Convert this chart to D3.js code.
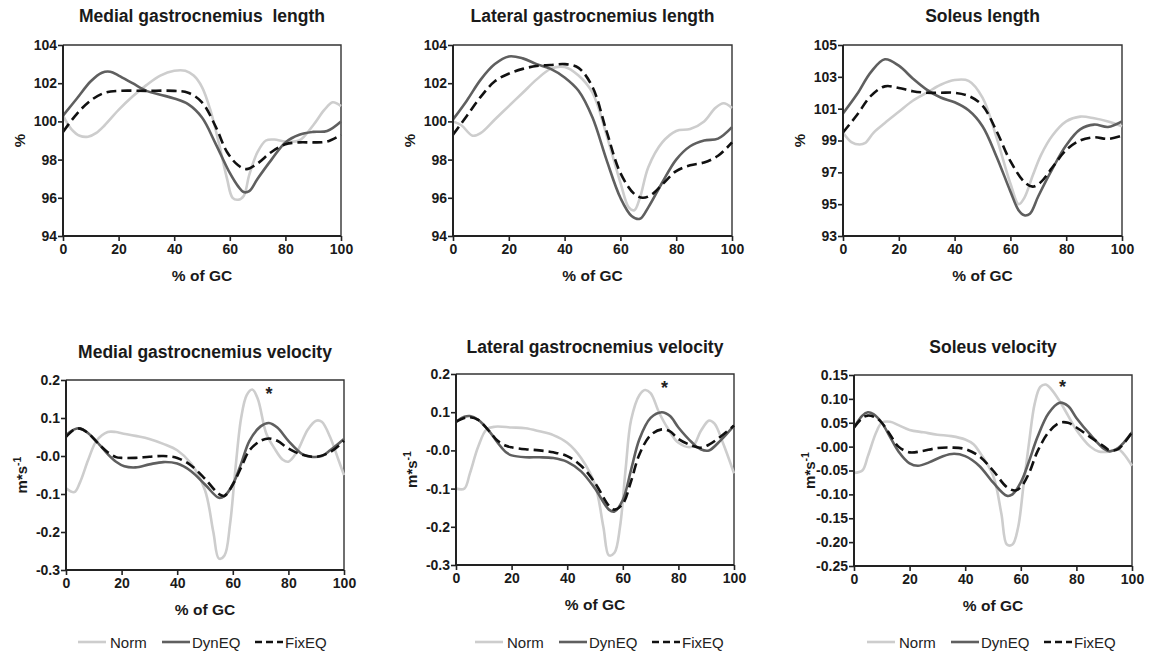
<!DOCTYPE html>
<html>
<head>
<meta charset="utf-8">
<script src="https://cdn.jsdelivr.net/npm/d3@7"></script>
<style>
  html, body { margin: 0; padding: 0; background: #fff; }
  svg { display: block; font-family: "Liberation Sans", Arial, sans-serif; }
</style>
</head>
<body>
<svg id="chart" width="1149" height="652"></svg>
<script>
// ---------- DATA ----------
const seriesNames = ["Norm", "DynEQ", "FixEQ"];
const xTicks = [0, 20, 40, 60, 80, 100];

// Medial gastrocnemius length (%)
const mgLenNorm = [[0,100.3],[3,99.6],[6,99.25],[9,99.2],[12,99.4],[15,99.8],[20,100.6],[25,101.3],[30,101.9],[35,102.4],[40,102.65],[44,102.65],[47,102.4],[50,101.8],[53,100.6],[56,98.9],[59,97.0],[61,96.0],[63,95.9],[65,96.1],[67,97.2],[70,98.4],[73,99.0],[76,99.05],[80,98.95],[85,99.0],[90,99.8],[94,100.6],[97,101.0],[100,100.8]];
const mgLenDyn  = [[0,100.3],[5,101.2],[10,102.1],[14,102.55],[17,102.6],[20,102.4],[25,102.0],[30,101.6],[35,101.4],[40,101.2],[45,100.9],[50,100.2],[55,98.8],[60,97.3],[63,96.6],[65,96.3],[67,96.35],[70,97.0],[75,98.0],[80,98.9],[85,99.3],[90,99.45],[95,99.5],[100,100.0]];
const mgLenFix  = [[0,99.45],[5,100.4],[10,101.1],[15,101.5],[20,101.6],[30,101.6],[40,101.6],[45,101.5],[50,101.0],[55,99.7],[59,98.4],[63,97.7],[66,97.5],[70,97.8],[75,98.4],[80,98.8],[85,98.9],[90,98.9],[95,98.95],[100,99.3]];

// Lateral gastrocnemius length (%)
const lgLenNorm = [[0,100.0],[3,99.8],[7,99.25],[10,99.4],[15,100.1],[20,100.8],[25,101.5],[30,102.2],[35,102.75],[40,102.85],[45,102.4],[50,101.5],[55,99.3],[60,96.8],[63,95.5],[65,95.35],[67,96.0],[70,97.6],[75,98.9],[80,99.5],[85,99.6],[90,100.0],[94,100.7],[97,100.95],[100,100.7]];
const lgLenDyn  = [[0,100.1],[5,101.1],[10,102.2],[15,103.0],[20,103.4],[25,103.3],[30,103.0],[35,102.75],[40,102.3],[45,101.6],[50,100.2],[55,98.0],[60,96.0],[64,95.05],[67,94.9],[70,95.5],[75,96.8],[80,98.0],[85,98.7],[90,99.0],[95,99.1],[100,99.7]];
const lgLenFix  = [[0,99.3],[5,100.3],[10,101.3],[15,102.1],[20,102.5],[25,102.75],[30,102.9],[35,102.95],[40,103.0],[45,102.8],[50,101.8],[55,99.5],[60,97.3],[65,96.2],[68,96.0],[71,96.15],[75,96.7],[80,97.4],[85,97.7],[90,97.85],[95,98.2],[100,98.9]];

// Soleus length (%)
const solLenNorm = [[0,99.5],[3,98.9],[6,98.75],[8,98.85],[11,99.5],[15,100.1],[20,100.8],[25,101.5],[30,102.0],[35,102.5],[40,102.8],[45,102.75],[50,101.7],[55,99.2],[60,96.3],[63,95.0],[65,95.4],[68,96.8],[71,98.1],[75,99.3],[80,100.2],[85,100.5],[90,100.4],[95,100.2],[100,99.9]];
const solLenDyn  = [[0,100.7],[5,101.9],[10,103.3],[15,104.1],[20,103.7],[25,102.9],[30,102.2],[35,101.7],[40,101.4],[45,100.9],[50,99.9],[55,98.0],[60,95.8],[63,94.6],[65,94.3],[67,94.4],[70,95.5],[75,97.2],[80,98.7],[85,99.7],[90,100.0],[95,99.85],[100,100.2]];
const solLenFix  = [[0,99.5],[5,100.6],[10,101.8],[15,102.4],[20,102.3],[25,102.1],[30,102.0],[35,102.0],[40,102.0],[45,101.8],[50,101.2],[55,99.6],[60,97.7],[65,96.4],[68,96.1],[71,96.4],[75,97.3],[80,98.4],[85,99.0],[90,99.2],[95,99.1],[100,99.3]];

// Medial gastrocnemius velocity (m*s-1)
const mgVelNorm = [[0,-0.085],[3,-0.095],[5,-0.07],[8,-0.01],[11,0.04],[15,0.063],[18,0.063],[20,0.06],[25,0.053],[30,0.045],[35,0.032],[40,0.015],[45,-0.02],[50,-0.09],[53,-0.2],[55,-0.27],[57,-0.262],[59,-0.18],[61,-0.03],[63,0.1],[65,0.16],[67,0.175],[69,0.15],[72,0.06],[75,0.02],[78,-0.01],[80,-0.015],[83,0.01],[87,0.07],[90,0.093],[92,0.09],[95,0.05],[98,-0.01],[100,-0.05]];
const mgVelDyn  = [[0,0.055],[3,0.07],[5,0.073],[8,0.06],[12,0.03],[15,0.005],[18,-0.015],[21,-0.027],[25,-0.03],[30,-0.022],[35,-0.016],[40,-0.02],[45,-0.04],[50,-0.075],[55,-0.11],[57,-0.105],[60,-0.075],[63,-0.02],[66,0.04],[70,0.078],[73,0.087],[76,0.075],[80,0.04],[85,0.005],[88,-0.002],[92,0.0],[95,0.015],[100,0.045]];
const mgVelFix  = [[0,0.05],[3,0.07],[5,0.072],[8,0.06],[12,0.03],[15,0.01],[18,-0.003],[20,-0.005],[25,-0.005],[30,-0.002],[35,0.0],[40,-0.005],[45,-0.025],[50,-0.06],[55,-0.1],[57,-0.105],[60,-0.075],[63,-0.03],[66,0.015],[70,0.04],[73,0.046],[76,0.04],[80,0.02],[85,0.003],[90,-0.002],[95,0.01],[100,0.04]];

// Lateral gastrocnemius velocity (m*s-1)
const lgVelNorm = [[0,-0.1],[3,-0.1],[5,-0.06],[8,0.01],[11,0.055],[14,0.062],[20,0.06],[25,0.058],[30,0.05],[35,0.04],[40,0.02],[45,-0.02],[50,-0.09],[53,-0.2],[55,-0.275],[57,-0.268],[59,-0.2],[61,-0.05],[63,0.08],[66,0.145],[68,0.158],[70,0.15],[73,0.1],[76,0.06],[80,0.02],[85,0.01],[88,0.05],[91,0.078],[93,0.07],[96,0.02],[100,-0.06]];
const lgVelDyn  = [[0,0.075],[3,0.088],[5,0.09],[8,0.08],[12,0.05],[15,0.02],[18,-0.005],[20,-0.013],[25,-0.018],[30,-0.018],[35,-0.02],[40,-0.03],[45,-0.055],[50,-0.1],[55,-0.155],[57,-0.16],[60,-0.13],[63,-0.05],[66,0.03],[70,0.085],[74,0.1],[77,0.09],[80,0.06],[85,0.02],[88,0.003],[91,0.0],[95,0.025],[100,0.065]];
const lgVelFix  = [[0,0.075],[3,0.085],[5,0.087],[8,0.08],[12,0.05],[15,0.025],[18,0.012],[20,0.008],[25,0.003],[30,0.0],[35,-0.005],[40,-0.015],[45,-0.04],[50,-0.085],[55,-0.145],[57,-0.155],[60,-0.14],[63,-0.08],[66,-0.01],[70,0.04],[74,0.055],[77,0.05],[80,0.03],[85,0.012],[88,0.007],[91,0.015],[95,0.035],[100,0.065]];

// Soleus velocity (m*s-1)
const solVelNorm = [[0,-0.055],[3,-0.05],[5,-0.02],[8,0.03],[10,0.05],[13,0.052],[16,0.045],[20,0.035],[25,0.03],[30,0.025],[35,0.022],[40,0.015],[43,0.005],[45,-0.01],[50,-0.06],[53,-0.14],[55,-0.205],[57,-0.205],[59,-0.17],[61,-0.08],[63,0.01],[65,0.09],[67,0.125],[69,0.13],[71,0.12],[74,0.095],[77,0.065],[80,0.035],[85,0.0],[88,-0.01],[92,-0.01],[95,-0.005],[97,-0.015],[100,-0.04]];
const solVelDyn  = [[0,0.04],[3,0.065],[5,0.072],[7,0.068],[10,0.05],[13,0.02],[16,-0.01],[20,-0.035],[23,-0.04],[27,-0.033],[32,-0.02],[36,-0.015],[40,-0.02],[45,-0.04],[50,-0.075],[55,-0.103],[57,-0.1],[60,-0.075],[63,-0.03],[66,0.02],[70,0.07],[74,0.092],[77,0.085],[80,0.06],[85,0.025],[90,-0.005],[92,-0.01],[95,-0.003],[100,0.03]];
const solVelFix  = [[0,0.04],[3,0.06],[5,0.065],[8,0.06],[10,0.05],[13,0.025],[16,0.0],[20,-0.012],[24,-0.01],[30,-0.003],[35,-0.002],[40,-0.005],[45,-0.02],[50,-0.05],[55,-0.085],[58,-0.092],[60,-0.085],[63,-0.055],[66,-0.01],[70,0.03],[74,0.05],[77,0.05],[80,0.04],[85,0.02],[90,0.0],[92,-0.008],[95,-0.005],[100,0.03]];

// Tick values and labels
const lenTicksA = [94, 96, 98, 100, 102, 104];
const lenTicksSol = [93, 95, 97, 99, 101, 103, 105];
const velTicksGas = [-0.3, -0.2, -0.1, 0, 0.1, 0.2];
const velLabelsGas = ["-0.3", "-0.2", "-0.1", "-0.0", "0.1", "0.2"];
const velTicksSol = [-0.25, -0.20, -0.15, -0.10, -0.05, 0, 0.05, 0.10, 0.15];
const velLabelsSol = ["-0.25", "-0.20", "-0.15", "-0.10", "-0.05", "-0.00", "0.05", "0.10", "0.15"];

// Significance markers [x, y]
const starMG = [73, 0.172];
const starLG = [75, 0.172];
const starSol = [75, 0.131];

const titles = ["Medial gastrocnemius  length", "Lateral gastrocnemius length", "Soleus length",
                "Medial gastrocnemius velocity", "Lateral gastrocnemius velocity", "Soleus velocity"];

// ---------- LAYOUT ----------
const panels = [
  { title: titles[0], box: [63, 341, 45, 236], yDom: [94, 104], ticks: lenTicksA, labels: null, ylab: "%", data: [mgLenNorm, mgLenDyn, mgLenFix], star: null, titleY: 22 },
  { title: titles[1], box: [453, 732, 45, 236], yDom: [94, 104], ticks: lenTicksA, labels: null, ylab: "%", data: [lgLenNorm, lgLenDyn, lgLenFix], star: null, titleY: 22 },
  { title: titles[2], box: [843, 1122, 45, 236], yDom: [93, 105], ticks: lenTicksSol, labels: null, ylab: "%", data: [solLenNorm, solLenDyn, solLenFix], star: null, titleY: 22 },
  { title: titles[3], box: [66, 344, 380, 570], yDom: [-0.3, 0.2], ticks: velTicksGas, labels: velLabelsGas, ylab: "vel", data: [mgVelNorm, mgVelDyn, mgVelFix], star: starMG, titleY: 358, legendX: 78 },
  { title: titles[4], box: [456, 734, 374, 565], yDom: [-0.3, 0.2], ticks: velTicksGas, labels: velLabelsGas, ylab: "vel", data: [lgVelNorm, lgVelDyn, lgVelFix], star: starLG, titleY: 353, legendX: 475 },
  { title: titles[5], box: [854, 1132, 375, 566], yDom: [-0.25, 0.15], ticks: velTicksSol, labels: velLabelsSol, ylab: "vel", data: [solVelNorm, solVelDyn, solVelFix], star: starSol, titleY: 353, legendX: 867 }
];

const styles = [
  { stroke: "#cdcdcd", width: 2.6, dash: null },
  { stroke: "#5f5f5f", width: 2.6, dash: null },
  { stroke: "#111", width: 2.6, dash: "10,5" }
];

const svg = d3.select("#chart");
const ink = "#1a1a1a";

panels.forEach(p => {
  const [x0, x1, y0, y1] = p.box;
  const x = d3.scaleLinear().domain([0, 100]).range([x0, x1]);
  const y = d3.scaleLinear().domain(p.yDom).range([y1, y0]);
  const g = svg.append("g");

  // title
  g.append("text").attr("x", (x0 + x1) / 2).attr("y", p.titleY)
    .attr("text-anchor", "middle").attr("font-size", 17.5).attr("font-weight", "bold")
    .attr("fill", ink).attr("xml:space", "preserve").style("white-space", "pre").text(p.title);

  // frame (top/right)
  g.append("path").attr("d", `M${x0},${y0}H${x1}V${y1}`)
    .attr("fill", "none").attr("stroke", "#333").attr("stroke-width", 1.4);

  // lines
  const line = d3.line().x(d => x(d[0])).y(d => y(d[1])).curve(d3.curveCatmullRom.alpha(0.5));
  const clipId = "clip" + x0 + "_" + y0;
  g.append("clipPath").attr("id", clipId).append("rect")
    .attr("x", x0).attr("y", y0 - 2).attr("width", x1 - x0 + 1).attr("height", y1 - y0 + 2);
  const lg = g.append("g").attr("clip-path", `url(#${clipId})`);
  p.data.forEach((s, i) => {
    lg.append("path").datum(s).attr("d", line)
      .attr("fill", "none").attr("stroke", styles[i].stroke)
      .attr("stroke-width", styles[i].width)
      .attr("stroke-dasharray", styles[i].dash)
      .attr("stroke-linejoin", "round");
  });

  // axes
  const xAxis = d3.axisBottom(x).tickValues(xTicks).tickSize(5).tickPadding(3).tickFormat(d3.format("d"));
  const yAxis = d3.axisLeft(y).tickValues(p.ticks).tickSize(5).tickPadding(1)
    .tickFormat((d, i) => p.labels ? p.labels[i] : d3.format("d")(d));
  const gx = g.append("g").attr("transform", `translate(0,${y1})`).call(xAxis);
  const gy = g.append("g").attr("transform", `translate(${x0},0)`).call(yAxis);
  [gx, gy].forEach(a => {
    a.select(".domain").attr("stroke", "#222").attr("stroke-width", 2);
    a.selectAll(".tick line").attr("stroke", "#222").attr("stroke-width", 1.6);
    a.selectAll(".tick text").attr("font-size", 14).attr("font-weight", "bold")
      .attr("fill", ink).attr("font-family", "Liberation Sans, Arial, sans-serif");
  });
  gx.select(".domain").attr("d", `M${x0},0H${x1}`);
  gy.select(".domain").attr("d", `M0,${y1}V${y0}`);

  // x label
  g.append("text").attr("x", (x0 + x1) / 2).attr("y", y1 + 45)
    .attr("text-anchor", "middle").attr("font-size", 15.5).attr("font-weight", "bold")
    .attr("fill", ink).attr("xml:space", "preserve").text("% of GC");

  // y label
  const ylx = p.ylab === "%" ? x0 - 38 : x0 - 39;
  const yc = (y0 + y1) / 2;
  const yt = g.append("text").attr("transform", `translate(${ylx},${yc}) rotate(-90)`)
    .attr("text-anchor", "middle").attr("font-size", 15).attr("font-weight", "bold")
    .attr("fill", ink);
  if (p.ylab === "%") {
    yt.text("%");
  } else {
    yt.append("tspan").text("m*s");
    yt.append("tspan").attr("dy", -6).attr("font-size", 10.5).text("-1");
  }

  // star
  if (p.star) {
    g.append("text").attr("x", x(p.star[0])).attr("y", y(p.star[1]) + 9)
      .attr("text-anchor", "middle").attr("font-size", 18).attr("font-weight", "bold")
      .attr("fill", "#222").text("*");
  }

  // legend
  if (p.legendX !== undefined) {
    const ly = 642;
    const offsets = [0, 84, 177];
    const textOff = [32, 30, 30];
    seriesNames.forEach((n, i) => {
      const lx = p.legendX + offsets[i];
      g.append("line").attr("x1", lx).attr("x2", lx + 28).attr("y1", ly).attr("y2", ly)
        .attr("stroke", styles[i].stroke).attr("stroke-width", 2.6)
        .attr("stroke-dasharray", i === 2 ? "7,4" : null);
      g.append("text").attr("x", lx + textOff[i]).attr("y", ly + 5.5)
        .attr("font-size", 15).attr("fill", "#222").text(n);
    });
  }
});
</script>
</body>
</html>
